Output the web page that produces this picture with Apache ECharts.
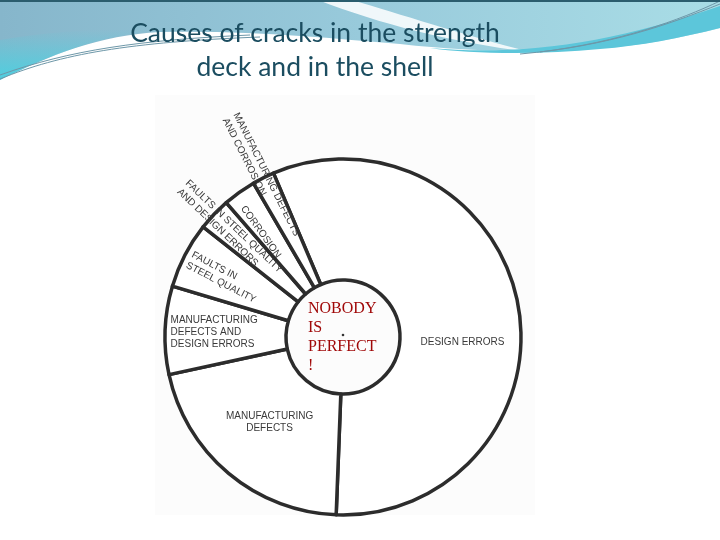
<!DOCTYPE html>
<html>
<head>
<meta charset="utf-8">
<script src="https://cdn.jsdelivr.net/npm/echarts@6/dist/echarts.min.js"></script>
<style>
    html, body { margin: 0; padding: 0; background: #fff; }
    #chart { width: 720px; height: 540px; }
</style>
</head>
<body>
<div id="chart"></div>
<script>
// slice labels, clockwise from the top (design errors first)
const categories = [
    'DESIGN ERRORS',
    'MANUFACTURING\nDEFECTS',
    'MANUFACTURING\nDEFECTS AND\nDESIGN ERRORS',
    'FAULTS IN\nSTEEL QUALITY',
    'FAULTS IN STEEL QUALITY\nAND DESIGN ERRORS',
    'CORROSION',
    'MANUFACTURING DEFECTS\nAND CORROSION'
];
// share of cracks, percent
const shares = [57, 21, 8, 6, 3, 3, 2];

const titleLines = ['Causes of cracks in the strength', 'deck and in the shell'];
const centerLines = ['NOBODY', 'IS', 'PERFECT', '!'];

// label tweaks (layout only), nudges are in screen px
const labelRotate = [0, 0, 0, 'radial', 'radial', 'radial', 'radial'];
const labelAlign = ['left', 'center', 'left', 'left', 'left', 'left', 'left'];
const labelNudge = [[1, 27], [4, -7], [-8, 0], [-12, -4], [-26, -23], [-12, -7], [-28, -52]];

const cx = 343, cy = 337, startAngle = 113;
const labelFont = 'Liberation Sans';

// mid angle of each slice (degrees, counter-clockwise from 3 o'clock)
const total = shares.reduce(function (a, b) { return a + b; }, 0);
let acc = 0;
const midAngles = shares.map(function (v) {
    const m = startAngle - (acc + v / 2) / total * 360;
    acc += v;
    return m;
});

// widest line of every label, so the lines can be left aligned
const measureCtx = document.createElement('canvas').getContext('2d');
measureCtx.font = '10px "' + labelFont + '"';
function widest(text) {
    return Math.ceil(Math.max.apply(null, text.split('\n').map(function (l) {
        return measureCtx.measureText(l).width;
    })));
}

// banner shapes of the slide template
const bannerPaths = {
    bannerBase: 'M0 0 L720 0 L720 28 C680 38 640 46 600 48 C540 53 470 52 400 44 C330 38 250 30 160 32 C100 35 50 55 0 80 Z',
    bannerCyan: 'M0 40 C60 30 110 28 160 30 C100 35 50 55 0 80 Z',
    bannerStreak: 'M318 0 L352 0 C400 14 460 34 530 52 C450 42 380 24 318 0 Z',
    bannerBand: 'M430 48 C520 56 610 44 720 6 L720 28 C680 38 640 46 600 49 C540 55 470 54 430 48 Z',
    bannerLines: 'M0 79 C60 54 130 42 260 37 M0 75 C70 50 140 40 250 35 M520 54 C610 46 670 24 720 4 M540 52 C620 42 680 20 720 1'
};
Object.keys(bannerPaths).forEach(function (k) {
    echarts.graphic.registerShape(k, echarts.graphic.extendPath(bannerPaths[k], {}));
});

let myChart = echarts.init(document.getElementById('chart'));

const option = {
    backgroundColor: '#ffffff',
    animation: false,
    title: {
        text: titleLines.join('\n'),
        left: 310,
        top: 11,
        textAlign: 'center',
        textStyle: {
            fontFamily: 'Lato',
            fontWeight: 'normal',
            fontSize: 26.5,
            lineHeight: 34,
            color: '#1b4d60'
        }
    },
    graphic: [
        {
            type: 'bannerBase', z: 0, silent: true,
            style: {
                fill: {
                    type: 'linear', x: 0, y: 0, x2: 1, y2: 0,
                    colorStops: [
                        { offset: 0, color: '#86b6cb' },
                        { offset: 0.5, color: '#98cadb' },
                        { offset: 1, color: '#a9dde6' }
                    ]
                }
            }
        },
        {
            type: 'bannerCyan', z: 1, silent: true,
            style: {
                fill: {
                    type: 'linear', x: 0, y: 0, x2: 0, y2: 1,
                    colorStops: [
                        { offset: 0, color: 'rgba(80,210,225,0)' },
                        { offset: 1, color: 'rgba(70,210,226,0.9)' }
                    ]
                }
            }
        },
        {
            type: 'bannerStreak', z: 1, silent: true,
            style: { fill: 'rgba(255,255,255,0.85)' }
        },
        {
            type: 'bannerBand', z: 1, silent: true,
            style: { fill: '#5cc6da' }
        },
        {
            type: 'bannerLines', z: 2, silent: true,
            style: { fill: null, stroke: '#6d97a8', lineWidth: 1 }
        },
        {
            type: 'rect', z: 2, silent: true,
            shape: { x: 0, y: 0, width: 720, height: 2 },
            style: { fill: '#2b5d6e' }
        },
        // scanned page
        {
            type: 'rect', z: 0, silent: true,
            shape: { x: 155, y: 95, width: 380, height: 420 },
            style: { fill: '#fcfcfc' }
        },
        // centre text
        {
            type: 'text', z: 100, silent: true,
            left: 308, top: 299,
            style: {
                text: centerLines.join('\n'),
                fontFamily: 'Liberation Serif',
                fontSize: 16,
                lineHeight: 19,
                fill: '#a00808'
            }
        },
        {
            type: 'circle', z: 100, silent: true,
            shape: { cx: cx, cy: cy - 2, r: 1.3 },
            style: { fill: '#333' }
        }
    ],
    series: [
        {
            name: 'Causes',
            type: 'pie',
            center: [cx, cy],
            radius: [57, 178],
            startAngle: startAngle,
            clockwise: true,
            silent: true,
            itemStyle: {
                color: '#ffffff',
                borderColor: '#2c2c2c',
                borderWidth: 3.5
            },
            label: {
                show: true,
                position: 'inside',
                fontFamily: labelFont,
                fontSize: 10,
                lineHeight: 12,
                color: '#3a3a3a'
            },
            labelLine: { show: false },
            labelLayout: function (params) {
                const i = params.dataIndex;
                const sx = labelNudge[i][0], sy = labelNudge[i][1];
                if (labelRotate[i] !== 'radial') {
                    return { dx: sx, dy: sy };
                }
                // dx/dy act in the rotated label frame
                const t = (180 - midAngles[i]) * Math.PI / 180;
                return {
                    dx: sx * Math.cos(t) + sy * Math.sin(t),
                    dy: -sx * Math.sin(t) + sy * Math.cos(t)
                };
            },
            data: categories.map(function (name, i) {
                const w = widest(name);
                return {
                    name: name,
                    value: shares[i],
                    label: {
                        rotate: labelRotate[i],
                        formatter: name.split('\n').map(function (l) {
                            return '{l|' + l + '}';
                        }).join('\n'),
                        rich: {
                            l: {
                                width: w,
                                align: labelAlign[i],
                                fontFamily: labelFont,
                                fontSize: 10,
                                lineHeight: 12,
                                color: '#3a3a3a'
                            }
                        }
                    }
                };
            })
        }
    ]
};

myChart.setOption(option);
</script>
</body>
</html>
